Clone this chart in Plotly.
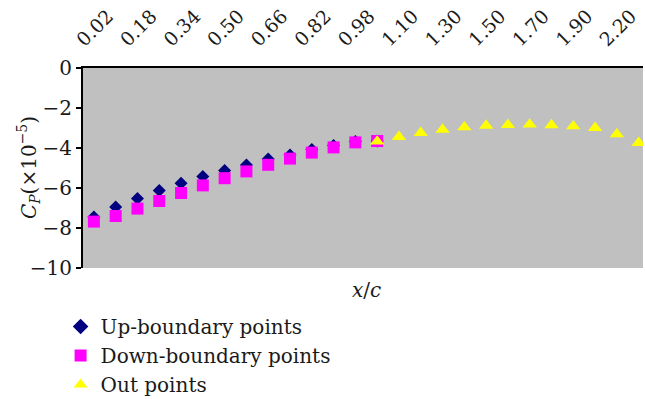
import plotly.graph_objects as go

# x/c categories (only every other one is labelled in the chart)
categories = ["0.02", "0.10", "0.18", "0.26", "0.34", "0.42", "0.50", "0.58",
              "0.66", "0.74", "0.82", "0.90", "0.98", "1.00", "1.10", "1.20",
              "1.30", "1.40", "1.50", "1.60", "1.70", "1.80", "1.90", "2.00",
              "2.20", "2.40"]
tick_labels = categories[::2]

up_x = categories[0:14]
up_vals = [-7.45, -6.95, -6.52, -6.12, -5.76, -5.43, -5.12, -4.85, -4.55,
           -4.35, -4.08, -3.87, -3.68, -3.65]

down_x = categories[0:14]
down_vals = [-7.68, -7.40, -7.03, -6.65, -6.25, -5.87, -5.51, -5.17, -4.84,
             -4.53, -4.23, -3.97, -3.72, -3.65]

out_x = categories[13:26]
out_vals = [-3.67, -3.44, -3.24, -3.08, -2.96, -2.88, -2.84, -2.82, -2.85,
            -2.91, -2.99, -3.31, -3.74]

FONT = "DejaVu Serif"
FS = 20
xr = [-0.5, 25.2]
boundaries = [i - 0.5 for i in range(len(categories))]

fig = go.Figure()
fig.add_trace(go.Scatter(x=up_x, y=up_vals, mode="markers", name="Up-boundary points",
                         marker=dict(symbol="diamond", size=10, color="#000080",
                                     line=dict(width=0))))
fig.add_trace(go.Scatter(x=down_x, y=down_vals, mode="markers", name="Down-boundary points",
                         marker=dict(symbol="square", size=12, color="#FF00FF",
                                     line=dict(width=0))))
fig.add_trace(go.Scatter(x=out_x, y=out_vals, mode="markers", name="Out points",
                         marker=dict(symbol="triangle-up", size=12.5, color="#FFFF00",
                                     line=dict(width=0))))

fig.update_layout(
    width=645, height=399,
    margin=dict(l=83, r=2, t=68, b=131, autoexpand=False),
    paper_bgcolor="white",
    plot_bgcolor="#C0C0C0",
    font=dict(family=FONT, size=FS, color="#1a1a1a"),
    showlegend=True,
    legend=dict(x=-0.04, xanchor="left", y=-0.195, yanchor="top",
                bgcolor="rgba(0,0,0,0)", font=dict(family=FONT, size=FS),
                tracegroupgap=0, itemsizing="constant"),
    xaxis=dict(type="category", side="top", range=xr, automargin=False,
               categoryorder="array", categoryarray=categories,
               tickmode="array", tickvals=tick_labels, ticktext=tick_labels,
               tickangle=-45, ticks="outside", ticklen=6,
               tickcolor="rgba(0,0,0,0)", ticklabelshift=-16,
               ticklabelstandoff=2,
               showgrid=False, zeroline=False, showline=True,
               linecolor="black", linewidth=2,
               tickfont=dict(family=FONT, size=19)),
    xaxis3=dict(overlaying="x", side="top", anchor="y", range=xr,
                automargin=False,
                tickmode="array", tickvals=boundaries, ticks="outside",
                ticklen=6, tickwidth=1.5, tickcolor="black",
                showticklabels=False, showgrid=False, zeroline=False,
                showline=True, linecolor="black", linewidth=2),
    xaxis4=dict(overlaying="x", side="top", anchor="y", range=xr,
                automargin=False,
                tickmode="array", tickvals=boundaries, ticks="inside",
                ticklen=6, tickwidth=1.5, tickcolor="black",
                showticklabels=False, showgrid=False, zeroline=False,
                showline=False),
    xaxis2=dict(overlaying="x", side="bottom", anchor="y", range=xr,
                automargin=False,
                showticklabels=False, ticks="", showgrid=False, zeroline=False,
                showline=True, linecolor="#808080", linewidth=2),
    yaxis=dict(range=[-10, 0], tickmode="linear", tick0=0, dtick=2,
               automargin=False,
               ticks="outside", ticklen=5, tickwidth=1.5, tickcolor="black",
               showgrid=False, zeroline=False, showline=True,
               linecolor="black", linewidth=2,
               tickfont=dict(family=FONT, size=FS)),
    yaxis3=dict(overlaying="y", side="left", anchor="x", range=[-10, 0],
                automargin=False,
                tickmode="linear", tick0=0, dtick=2, ticks="inside", ticklen=5,
                tickwidth=1.5, tickcolor="black", showticklabels=False,
                showgrid=False, zeroline=False, showline=False),
    yaxis2=dict(overlaying="y", side="right", anchor="x", range=[-10, 0],
                automargin=False,
                showticklabels=False, ticks="", showgrid=False, zeroline=False,
                showline=True, linecolor="#A0A0A0", linewidth=1),
    annotations=[
        dict(text="<i>x</i>/<i>c</i>", xref="paper", yref="paper",
             x=0.507, y=-0.11, xanchor="center", yanchor="middle",
             showarrow=False, font=dict(family=FONT, size=FS)),
        dict(text="<i>C</i><sub><i>P</i></sub>(×10<sup>−5</sup>)",
             xref="paper", yref="paper", x=-0.098, y=0.5, textangle=-90,
             xanchor="center", yanchor="middle", showarrow=False,
             font=dict(family=FONT, size=FS)),
    ],
)

fig.write_html("out.html")
